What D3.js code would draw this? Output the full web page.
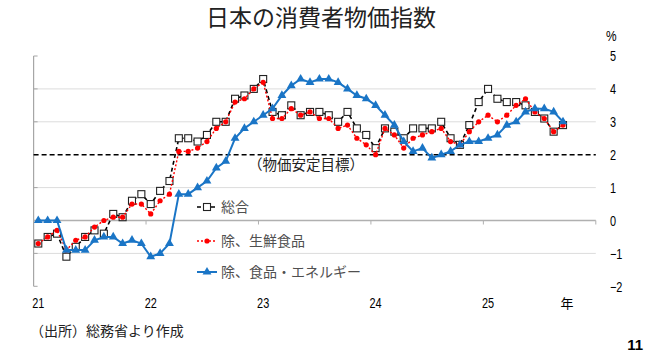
<!DOCTYPE html>
<html><head><meta charset="utf-8">
<script src="https://cdn.jsdelivr.net/npm/d3@7"></script>
<style>
body{margin:0;background:#fff;}
svg{display:block;}
.num{font-family:"Liberation Sans Narrow","Liberation Sans",sans-serif;font-size:14px;fill:#000;}
.jp{font-family:"Noto Sans CJK JP",sans-serif;}
</style></head>
<body>
<svg id="c" width="659" height="358"></svg>
<script>
// ---- data ----
const years = ["21","22","23","24","25"];
const monthsPerYear = 12;
const yTicks = [-2,-1,0,1,2,3,4,5];
const gridValues = [-1,1,3,4];
const targetValue = 2;
const seriesNames = ["総合","除、生鮮食品","除、食品・エネルギー"];
// 総合 (2021/01 - 2025/09)
const headline = [-0.7,-0.5,-0.4,-1.1,-0.8,-0.5,-0.3,-0.4,0.2,0.1,0.6,0.8,
  0.5,0.9,1.2,2.5,2.5,2.4,2.6,3.0,3.0,3.7,3.8,4.0,
  4.3,3.3,3.2,3.5,3.2,3.3,3.3,3.2,3.0,3.3,2.8,2.6,
  2.2,2.8,2.7,2.5,2.8,2.8,2.8,3.0,2.5,2.3,2.9,3.6,
  4.0,3.7,3.6,3.6,3.5,3.3,3.1,2.7,2.9];
// 除、生鮮食品
const core = [-0.7,-0.5,-0.3,-0.9,-0.6,-0.5,-0.2,0.0,0.1,0.1,0.5,0.5,
  0.2,0.6,0.8,2.1,2.1,2.2,2.4,2.8,3.0,3.6,3.7,4.0,
  4.2,3.1,3.1,3.4,3.2,3.3,3.1,3.1,2.8,2.9,2.5,2.3,
  2.0,2.8,2.6,2.2,2.5,2.6,2.7,2.8,2.4,2.3,2.7,3.0,
  3.2,3.0,3.2,3.5,3.7,3.3,3.1,2.7,2.9];
// 除、食品・エネルギー
const coreCore = [0.0,0.0,0.0,-0.9,-0.9,-0.9,-0.6,-0.5,-0.5,-0.7,-0.6,-0.7,
  -1.1,-1.0,-0.7,0.8,0.8,1.0,1.2,1.6,1.8,2.5,2.8,3.0,
  3.2,3.4,3.8,4.1,4.3,4.2,4.3,4.3,4.2,4.0,3.8,3.7,
  3.5,3.2,2.9,2.4,2.1,2.2,1.9,2.0,2.1,2.3,2.4,2.4,
  2.5,2.6,2.9,3.0,3.3,3.4,3.4,3.3,3.0];

// ---- layout ----
const svg = d3.select("#c");
const L = 33.6, R = 595.8, T = 56, B = 286.3;
const categories = [];
years.forEach(y => { for (let m = 1; m <= monthsPerYear; m++) categories.push(y + "-" + m); });
const x = d3.scaleBand().domain(categories).range([L, R]).padding(0);
const bw = x.bandwidth();
const cx = i => x(categories[i]) + bw / 2;
const y = d3.scaleLinear().domain([-2, 5]).range([B, T]);

// title
svg.append("text").attr("class","jp").attr("x",321).attr("y",26)
  .attr("text-anchor","middle").attr("font-size",23).attr("fill","#222")
  .text("日本の消費者物価指数");

// gridlines
svg.append("g").selectAll("line").data(gridValues).join("line")
  .attr("x1",L).attr("x2",R).attr("y1",d=>y(d)).attr("y2",d=>y(d))
  .attr("stroke","#dcdcdc").attr("stroke-width",1);

// left axis line + inner ticks
svg.append("line").attr("x1",L).attr("x2",L).attr("y1",T).attr("y2",B)
  .attr("stroke","#a6a6a6").attr("stroke-width",1.2);
svg.append("g").selectAll("line").data(yTicks).join("line")
  .attr("x1",L).attr("x2",L+4).attr("y1",d=>y(d)).attr("y2",d=>y(d))
  .attr("stroke","#a6a6a6").attr("stroke-width",1);

// right labels via axis
const yAxis = d3.axisRight(y).tickValues(yTicks).tickSize(0).tickPadding(0).tickFormat(d3.format("d"));
const ga = svg.append("g").attr("transform",`translate(610,0)`).call(yAxis);
ga.select(".domain").remove();
ga.selectAll("text").attr("class","num").attr("dy","0.35em").attr("fill","#000")
  .attr("transform","scale(0.78,1)");
svg.append("text").attr("class","num").attr("transform","translate(606,41) scale(0.85,1)")
  .attr("fill","#808080").text("%");

// zero axis with year ticks
const yearBounds = d3.range(1, years.length + 1).map(k => x(categories[k*monthsPerYear - 1]) + bw);
svg.append("line").attr("x1",L).attr("x2",R).attr("y1",y(0)).attr("y2",y(0))
  .attr("stroke","#b0b0b0").attr("stroke-width",1.3);
svg.append("g").selectAll("line").data(yearBounds).join("line")
  .attr("x1",d=>d).attr("x2",d=>d).attr("y1",y(0)).attr("y2",y(0)+4)
  .attr("stroke","#b0b0b0").attr("stroke-width",1);

// target line
svg.append("line").attr("x1",L).attr("x2",R).attr("y1",y(targetValue)).attr("y2",y(targetValue))
  .attr("stroke","#000").attr("stroke-width",1.5).attr("stroke-dasharray","5,3");
svg.append("text").attr("class","jp").attr("x",306).attr("y",170).attr("text-anchor","middle")
  .attr("font-size",14.5).attr("fill","#222").text("（物価安定目標）");

// x labels
svg.append("g").selectAll("text").data(years).join("text").attr("class","num")
  .attr("transform",(d,i)=>`translate(${cx(i*monthsPerYear)},308) scale(0.78,1)`)
  .attr("text-anchor","middle").text(d=>d);
svg.append("text").attr("class","jp").attr("x",567).attr("y",308).attr("text-anchor","middle")
  .attr("font-size",13).attr("fill","#000").text("年");

// series
const line = d3.line().x((d,i)=>cx(i)).y(d=>y(d));
const tri = d3.symbol().type(d3.symbolTriangle).size(34);
function drawHeadline(g){
  g.append("path").datum(headline).attr("d",line).attr("fill","none")
    .attr("stroke","#000").attr("stroke-width",1.6).attr("stroke-dasharray","4,3");
  g.append("g").selectAll("rect").data(headline).join("rect")
    .attr("x",(d,i)=>cx(i)-3.5).attr("y",d=>y(d)-3.5).attr("width",7).attr("height",7)
    .attr("fill","#fff").attr("stroke","#222").attr("stroke-width",1.1);
}
function drawCore(g){
  g.append("path").datum(core).attr("d",line).attr("fill","none")
    .attr("stroke","#ff0000").attr("stroke-width",1.4).attr("stroke-dasharray","2,2");
  g.append("g").selectAll("circle").data(core).join("circle")
    .attr("cx",(d,i)=>cx(i)).attr("cy",d=>y(d)).attr("r",2.6).attr("fill","#ff0000");
}
function drawCoreCore(g){
  g.append("path").datum(coreCore).attr("d",line).attr("fill","none")
    .attr("stroke","#1a75c6").attr("stroke-width",2);
  g.append("g").selectAll("path").data(coreCore).join("path")
    .attr("d",tri).attr("transform",(d,i)=>`translate(${cx(i)},${y(d)})`).attr("fill","#1a75c6");
}
drawHeadline(svg.append("g"));
drawCore(svg.append("g"));
drawCoreCore(svg.append("g"));

// legend
const lg = svg.append("g");
const legY = [207, 241, 272];
lg.append("line").attr("x1",197).attr("x2",217).attr("y1",legY[0]).attr("y2",legY[0])
  .attr("stroke","#000").attr("stroke-width",1.6).attr("stroke-dasharray","4,3");
lg.append("rect").attr("x",203.5).attr("y",legY[0]-3.5).attr("width",7).attr("height",7)
  .attr("fill","#fff").attr("stroke","#222").attr("stroke-width",1.1);
lg.append("line").attr("x1",197).attr("x2",217).attr("y1",legY[1]).attr("y2",legY[1])
  .attr("stroke","#ff0000").attr("stroke-width",1.4).attr("stroke-dasharray","2,2");
lg.append("circle").attr("cx",207).attr("cy",legY[1]).attr("r",2.6).attr("fill","#ff0000");
lg.append("line").attr("x1",197).attr("x2",217).attr("y1",legY[2]).attr("y2",legY[2])
  .attr("stroke","#1a75c6").attr("stroke-width",2);
lg.append("path").attr("d",tri).attr("transform",`translate(207,${legY[2]})`).attr("fill","#1a75c6");
lg.selectAll("text.lt").data(seriesNames).join("text").attr("class","jp")
  .attr("x",221).attr("y",(d,i)=>legY[i]+5).attr("font-size",14).attr("fill","#505050").text(d=>d);

// footnotes
svg.append("text").attr("class","jp").attr("x",30).attr("y",336).attr("font-size",14)
  .attr("fill","#222").text("（出所）総務省より作成");
svg.append("text").attr("x",643).attr("y",350).attr("text-anchor","end")
  .attr("font-family","Liberation Sans, sans-serif").attr("font-weight","bold")
  .attr("font-size",15).attr("fill","#000").text("11");
</script>
</body></html>
